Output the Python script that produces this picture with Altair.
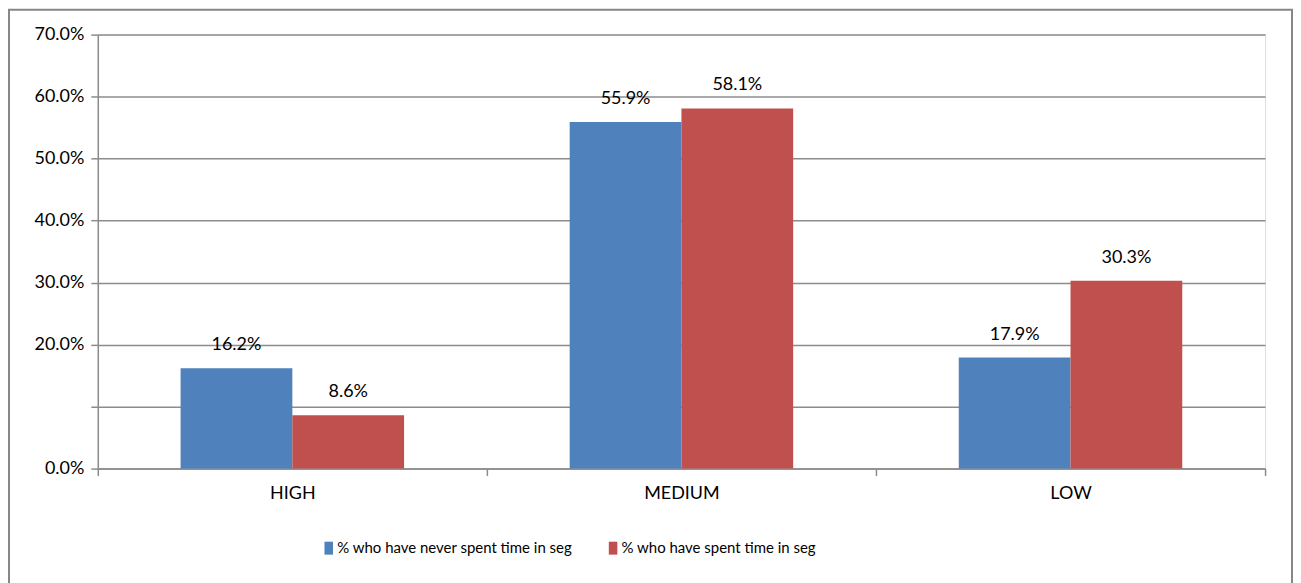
import altair as alt
import pandas as pd

categories = ["HIGH", "MEDIUM", "LOW"]
series = ["% who have never spent time in seg", "% who have spent time in seg"]
never_vals = [0.162, 0.559, 0.179]
spent_vals = [0.086, 0.581, 0.303]
colors = ["#4F81BD", "#C0504D"]
y_ticks = [0.0, 0.1, 0.2, 0.3, 0.4, 0.5, 0.6, 0.7]

rows = []
for c, a, b in zip(categories, never_vals, spent_vals):
    rows.append({"cat": c, "series": series[0], "value": a})
    rows.append({"cat": c, "series": series[1], "value": b})
df = pd.DataFrame(rows)

FONT = "Lato"
FS = 18
GRID = "#8c8c8c"

x_enc = alt.X("cat:N", sort=categories,
              scale=alt.Scale(paddingInner=0, paddingOuter=0),
              axis=alt.Axis(title=None, labelAngle=0, tickBand="extent",
                            domainColor=GRID, domainWidth=1.5, tickColor=GRID,
                            tickWidth=1.5, tickSize=7, labelPadding=9,
                            labelFont=FONT, labelFontSize=FS, labelColor="#000000"))
y_enc = alt.Y("value:Q",
              scale=alt.Scale(domain=[0, 0.7], nice=False),
              axis=alt.Axis(title=None, values=y_ticks,
                            labelExpr="datum.value > 0.05 && datum.value < 0.15 ? '' : format(datum.value, '.1%')",
                            grid=True, gridColor=GRID, gridWidth=1.5,
                            domainColor=GRID, domainWidth=1.5, tickColor=GRID,
                            tickWidth=1.5, tickSize=7, labelPadding=7,
                            labelFont=FONT, labelFontSize=FS, labelColor="#000000"))
xoff = alt.XOffset("series:N", sort=series,
                   scale=alt.Scale(paddingInner=0, paddingOuter=0.741))

base = alt.Chart(df)

bars = base.mark_bar().encode(
    x=x_enc, y=y_enc, xOffset=xoff,
    color=alt.Color("series:N", sort=series,
                    scale=alt.Scale(domain=series, range=colors),
                    legend=alt.Legend(title=None, orient="none", direction="horizontal",
                                      legendX=224, legendY=507,
                                      symbolType="M-0.66,-1H0.66V1H-0.66Z",
                                      symbolSize=169, symbolStrokeWidth=0,
                                      labelFont=FONT, labelFontSize=15, labelColor="#000000",
                                      labelLimit=0, columnPadding=33, labelOffset=1)),
)

labels = base.mark_text(font=FONT, fontSize=FS, color="#000000",
                        baseline="middle", dy=-23).encode(
    x=alt.X("cat:N", sort=categories), y="value:Q", xOffset=xoff,
    text=alt.Text("value:Q", format=".1%"),
)

frame = alt.Chart(alt.Data(values=[{"a": 1}])).mark_rect(
    fill=None, stroke="#878787", strokeWidth=2, clip=False
).encode(x=alt.value(-89), x2=alt.value(1197), y=alt.value(-25), y2=alt.value(600))

chart = alt.layer(frame, bars, labels).properties(
    width=1170, height=435,
    padding={"left": 90, "top": 26, "right": 28, "bottom": 118},
    autosize=alt.AutoSizeParams(type="none"),
).configure_view(stroke=None).configure(background="white")

chart.save("out.html", embed_options={"renderer": "svg", "actions": False})
